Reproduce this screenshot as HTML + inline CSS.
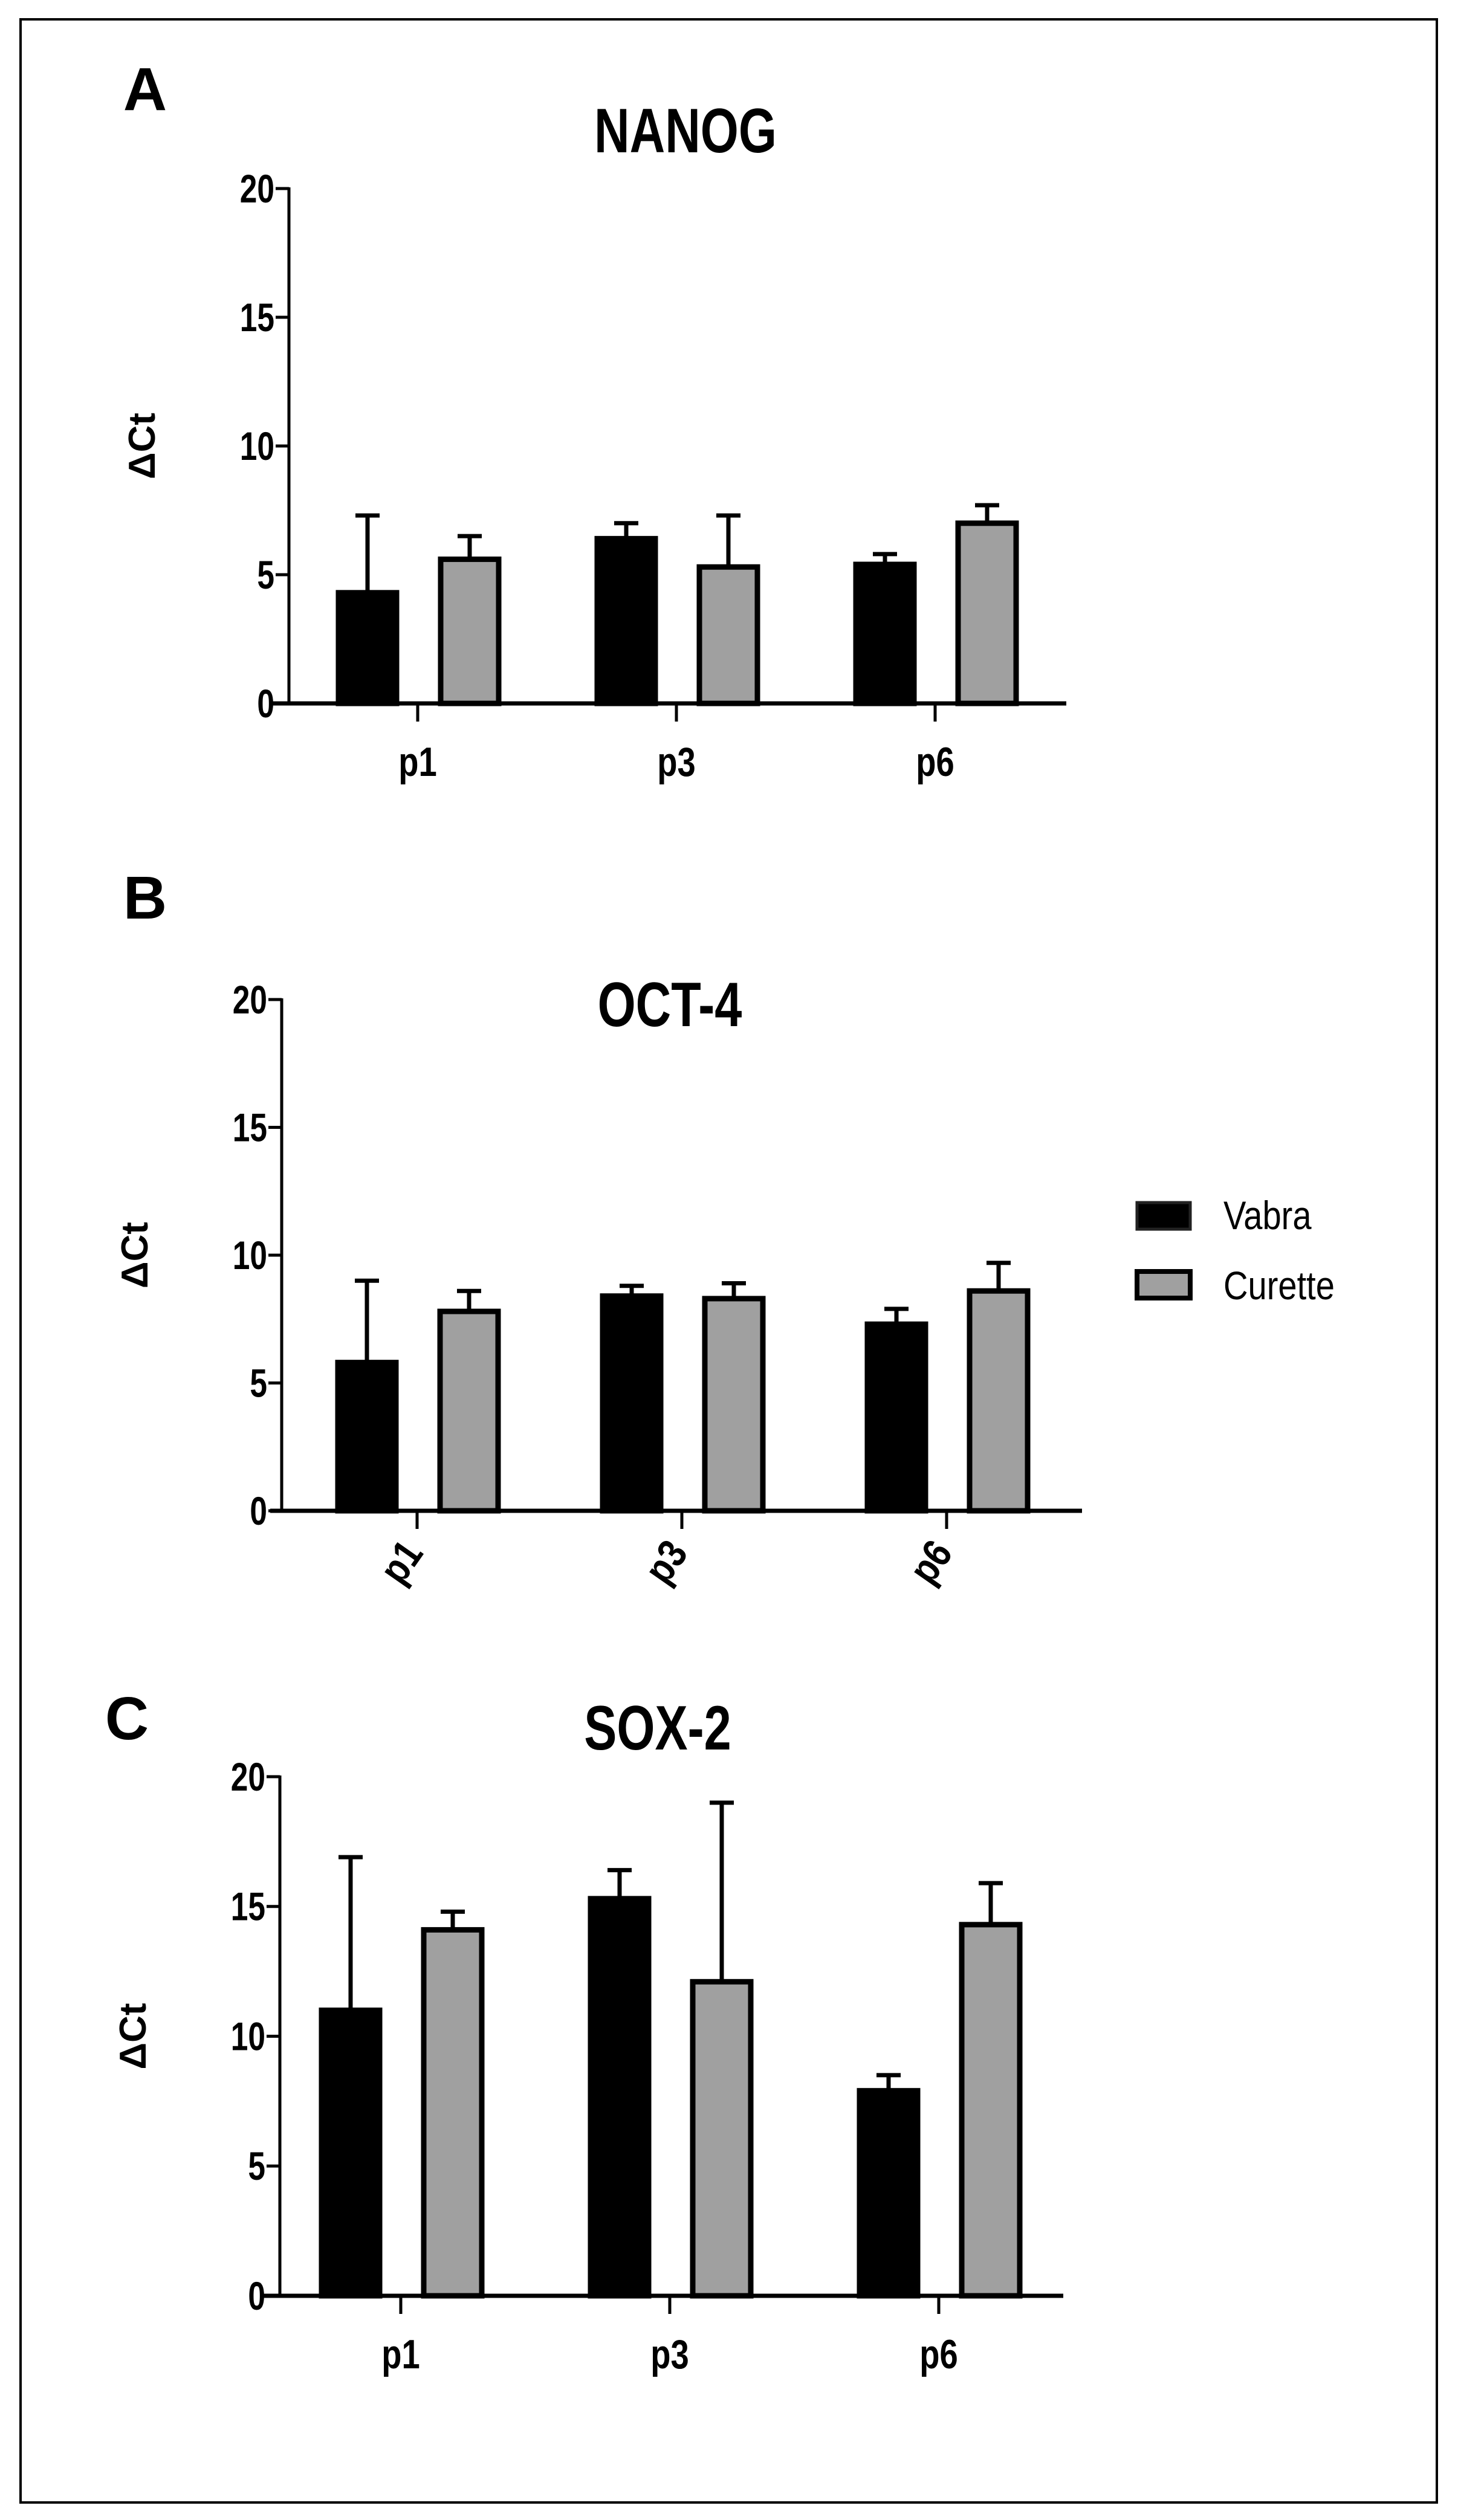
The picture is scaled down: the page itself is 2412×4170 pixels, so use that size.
<!DOCTYPE html>
<html><head><meta charset="utf-8"><style>
html,body{margin:0;padding:0;background:#fff;}
svg{display:block;}
text{font-family:"Liberation Sans Narrow","Liberation Sans",sans-serif;}
</style></head><body>
<svg id="fig" width="2412" height="4170" viewBox="0 0 2412 4170" xmlns="http://www.w3.org/2000/svg">
<rect x="34" y="32" width="2343" height="4109" fill="none" stroke="#000" stroke-width="4"/>
<g>
<rect x="1881" y="1990" width="88" height="44" fill="#000" stroke="#222" stroke-width="5"/>
<text x="2024" y="2034" font-size="66" transform="translate(2024 0) scale(0.85 1) translate(-2024 0)">Vabra</text>
<rect x="1881" y="2104" width="88" height="44" fill="#a0a0a0" stroke="#000" stroke-width="8"/>
<text x="2024" y="2150" font-size="66" transform="translate(2024 0) scale(0.85 1) translate(-2024 0)">Curette</text>
</g>
</svg>
<script>
const categories = ["p1", "p3", "p6"];
const yTicks = [0, 5, 10, 15, 20];
const nanogVabra = [4.3, 6.4, 5.4];
const nanogVabraErr = [3.0, 0.6, 0.4];
const nanogCurette = [5.6, 5.3, 7.0];
const nanogCuretteErr = [0.9, 2.0, 0.7];
const octVabra = [5.8, 8.4, 7.3];
const octVabraErr = [3.2, 0.4, 0.6];
const octCurette = [7.8, 8.3, 8.6];
const octCuretteErr = [0.8, 0.6, 1.1];
const soxVabra = [11.0, 15.3, 7.9];
const soxVabraErr = [5.9, 1.1, 0.6];
const soxCurette = [14.1, 12.1, 14.3];
const soxCuretteErr = [0.7, 6.9, 1.6];

const NS = "http://www.w3.org/2000/svg";
const svg = document.getElementById("fig");
function mk(tag, attrs, parent) {
  const el = document.createElementNS(NS, tag);
  for (const k in attrs) el.setAttribute(k, attrs[k]);
  (parent || svg).appendChild(el);
  return el;
}
function narrowText(parent, x, y, str, size, weight, anchor, sx) {
  const t = mk("text", {x: x, y: y, "font-size": size, "font-weight": weight, "text-anchor": anchor,
    transform: "translate(" + x + " 0) scale(" + sx + " 1) translate(" + (-x) + " 0)"}, parent);
  t.textContent = str;
  return t;
}

function drawPanel(p) {
  const g = mk("g", {});
  
  
  const yScale = v => p.y0 + (p.y20 - p.y0) * v / 20;
  const xScale = i => p.tick0 + i * p.step;

  const letter = narrowText(g, p.letterX, p.letterY, p.letter, 100, "bold", "middle", 1);
  
  
  const title = narrowText(g, p.titleX, p.titleY, p.title, 104, "bold", "middle", 0.78);
  
  

  for (let i = 0; i < categories.length; i++) {
    const cx = xScale(i);
    const series = [
      {v: p.vabra[i], e: p.vabraErr[i], off: -83, fill: "#000", name: "bar-vabra-"},
      {v: p.curette[i], e: p.curetteErr[i], off: 86, fill: "#a0a0a0", name: "bar-curette-"}
    ];
    for (const s of series) {
      const bx = cx + s.off;
      const top = yScale(s.v);
      const eb = mk("line", {x1: bx, x2: bx, y1: top, y2: yScale(s.v + s.e), stroke: "#000", "stroke-width": 7}, g);
      
      
      const cap = mk("line", {x1: bx - 20, x2: bx + 20, y1: yScale(s.v + s.e), y2: yScale(s.v + s.e), stroke: "#000", "stroke-width": 7}, g);
      
      
      const r = mk("rect", {x: bx - 48, y: top, width: 96, height: p.y0 - top, fill: s.fill, stroke: "#000", "stroke-width": 9}, g);
      
      
    }
    const tk = mk("line", {x1: cx, x2: cx, y1: p.y0, y2: p.y0 + 30, stroke: "#000", "stroke-width": 5}, g);
    
    
    let lbl;
    if (p.rotated) {
      lbl = mk("text", {x: 0, y: 0, "font-size": 68, "font-weight": "bold", "text-anchor": "end",
        transform: "translate(" + (cx + 12) + " " + (p.y0 + 70) + ") rotate(-55) scale(0.85 1)"}, g);
    } else {
      lbl = mk("text", {x: 0, y: 0, "font-size": 68, "font-weight": "bold", "text-anchor": "middle",
        transform: "translate(" + cx + " " + (p.y0 + 120) + ") scale(0.8 1)"}, g);
    }
    lbl.textContent = categories[i];
    
    
  }

  const ya = mk("line", {x1: p.axisX, x2: p.axisX, y1: p.y20 - 2, y2: p.y0 + 3, stroke: "#000", "stroke-width": 5}, g);
  
  
  const xa = mk("line", {x1: p.xStart, x2: p.xEnd, y1: p.y0, y2: p.y0, stroke: "#000", "stroke-width": 7}, g);
  
  
  for (const t of yTicks) {
    const y = yScale(t);
    const tl = mk("line", {x1: p.axisX - 22, x2: p.axisX, y1: y, y2: y, stroke: "#000", "stroke-width": 5}, g);
    
    
    const tt = narrowText(g, p.axisX - 24, y + 23, String(t), 66, "bold", "end", 0.78);
    
    
  }
  const yt = mk("text", {x: 0, y: 0, "font-size": 62, "font-weight": "bold", "text-anchor": "middle",
    transform: "translate(" + (p.axisX - 222) + " " + ((p.y0 + p.y20) / 2) + ") rotate(-90)"}, g);
  yt.textContent = "\u0394Ct";
  
  
}

drawPanel({key: "nanog", letter: "A", title: "NANOG", letterX: 240, letterY: 182, titleX: 1134, titleY: 252,
  y0: 1164, y20: 312, axisX: 478, xStart: 447, xEnd: 1764, tick0: 691, step: 428,
  vabra: nanogVabra, vabraErr: nanogVabraErr, curette: nanogCurette, curetteErr: nanogCuretteErr, rotated: false});
drawPanel({key: "oct4", letter: "B", title: "OCT-4", letterX: 240, letterY: 1520, titleX: 1108, titleY: 1698,
  y0: 2500, y20: 1654, axisX: 466, xStart: 447, xEnd: 1790, tick0: 690, step: 438,
  vabra: octVabra, vabraErr: octVabraErr, curette: octCurette, curetteErr: octCuretteErr, rotated: true});
drawPanel({key: "sox2", letter: "C", title: "SOX-2", letterX: 210, letterY: 2878, titleX: 1088, titleY: 2895,
  y0: 3799, y20: 2940, axisX: 463, xStart: 432, xEnd: 1759, tick0: 663, step: 445,
  vabra: soxVabra, vabraErr: soxVabraErr, curette: soxCurette, curetteErr: soxCuretteErr, rotated: false});
</script>
</body></html>
